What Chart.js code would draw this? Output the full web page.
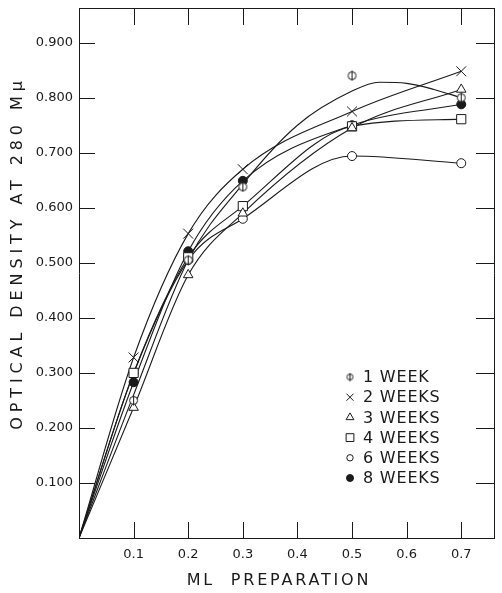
<!DOCTYPE html>
<html>
<head>
<meta charset="utf-8">
<title>Optical density at 280 mμ</title>
<script src="https://cdn.jsdelivr.net/npm/chart.js@4.4.1/dist/chart.umd.min.js"></script>
<style>
  html, body { margin: 0; padding: 0; background: #fff; }
  #wrap { width: 502px; height: 593px; }
</style>
</head>
<body>
<div id="wrap"><canvas id="chart" width="502" height="593"></canvas></div>
<script>
  // ml preparation (x) where readings were taken
  const xValues = [0.1, 0.2, 0.3, 0.5, 0.7];

  // optical density readings, one list per storage time
  const week1 = [0.25, 0.505, 0.638, 0.84, 0.8];
  const week2 = [0.328, 0.553, 0.67, 0.775, 0.848];
  const week3 = [0.237, 0.478, 0.59, 0.745, 0.815];
  const week4 = [0.3, 0.51, 0.603, 0.748, 0.761];
  const week6 = [0.299, 0.505, 0.58, 0.694, 0.681];
  const week8 = [0.283, 0.521, 0.649, 0.75, 0.788];

  const week1CurveX = [0, 0.1, 0.2, 0.3, 0.4, 0.5, 0.55, 0.6, 0.65, 0.7];
  const week1CurveY = [0, 0.26, 0.505, 0.643, 0.75, 0.812, 0.828, 0.826, 0.815, 0.8];

  const weekLabels = ["1 WEEK", "2 WEEKS", "3 WEEKS", "4 WEEKS", "6 WEEKS", "8 WEEKS"];

  const xTicks = [0.1, 0.2, 0.3, 0.4, 0.5, 0.6, 0.7];
  const yTicks = [0.1, 0.2, 0.3, 0.4, 0.5, 0.6, 0.7, 0.8, 0.9];

  const INK = "#1a1a1a";
  const FONT = '"DejaVu Sans", sans-serif';

  // circle with a vertical bar through it, used for 1 week
  function barCircle(size, r) {
    const c = document.createElement("canvas");
    c.width = size;
    c.height = size;
    const g = c.getContext("2d");
    const m = size / 2;
    g.strokeStyle = INK;
    g.lineWidth = 1;
    g.fillStyle = "#fff";
    g.beginPath();
    g.arc(m, m, r, 0, Math.PI * 2);
    g.fill();
    g.stroke();
    g.beginPath();
    g.moveTo(m, 0.5);
    g.lineTo(m, size - 0.5);
    g.stroke();
    return c;
  }

  const markerStyles = [
    { pointStyle: barCircle(11, 4), radius: 5, legendStyle: barCircle(9, 3), legendRadius: 4, fill: "#fff" },
    { pointStyle: "crossRot", radius: 7, legendRadius: 5, fill: "#fff" },
    { pointStyle: "triangle", radius: 5.5, legendRadius: 4.5, fill: "#fff" },
    { pointStyle: "rect", radius: 6.5, legendRadius: 5.5, fill: "#fff" },
    { pointStyle: "circle", radius: 4.5, legendRadius: 3.2, fill: "#fff" },
    { pointStyle: "circle", radius: 4.5, legendRadius: 3.5, fill: INK },
  ];

  function toPoints(xs, ys) {
    return xs.map((x, i) => ({ x, y: ys[i] }));
  }

  const weekValues = [week1, week2, week3, week4, week6, week8];

  const curveSets = weekValues.map((vals, i) => {
    const data = i === 0
      ? toPoints(week1CurveX, week1CurveY)
      : toPoints([0, ...xValues], [0, ...vals]);
    return {
      label: weekLabels[i] + " curve",
      data,
      order: 1,
      borderColor: INK,
      borderWidth: 1.1,
      pointRadius: 0,
      cubicInterpolationMode: "monotone",
      fill: false,
    };
  });

  const markerSets = weekValues.map((vals, i) => {
    const st = markerStyles[i];
    return {
      label: weekLabels[i],
      data: toPoints(xValues, vals),
      order: 0,
      showLine: false,
      pointStyle: st.pointStyle,
      pointRadius: st.radius,
      pointBorderColor: INK,
      pointBackgroundColor: st.fill,
      pointBorderWidth: 1,
    };
  });

  // tick marks point into the plot on all four sides
  const innerTicks = {
    id: "innerTicks",
    afterDraw(chart) {
      const { ctx, chartArea: a, scales } = chart;
      ctx.save();
      ctx.strokeStyle = INK;
      ctx.lineWidth = 1;
      ctx.beginPath();
      xTicks.forEach((v) => {
        const px = Math.round(scales.x.getPixelForValue(v)) + 0.5;
        ctx.moveTo(px, a.bottom);
        ctx.lineTo(px, a.bottom - 16);
        ctx.moveTo(px, a.top);
        ctx.lineTo(px, a.top + 17);
      });
      yTicks.forEach((v) => {
        const py = Math.round(scales.y.getPixelForValue(v)) + 0.5;
        ctx.moveTo(a.left, py);
        ctx.lineTo(a.left + 16, py);
        ctx.moveTo(a.right, py);
        ctx.lineTo(a.right - 18, py);
      });
      ctx.stroke();
      ctx.restore();
    },
  };

  // axis titles with wide letter spacing like the original lettering
  const axisTitles = {
    id: "axisTitles",
    afterDraw(chart) {
      const { ctx, chartArea } = chart;
      ctx.save();
      ctx.fillStyle = INK;
      ctx.font = "16px " + FONT;
      ctx.textAlign = "center";
      ctx.textBaseline = "middle";
      ctx.letterSpacing = "2.8px";
      ctx.fillText("ML  PREPARATION", chartArea.left + 200, 581);
      ctx.translate(18, chartArea.top + 245);
      ctx.rotate(-Math.PI / 2);
      ctx.letterSpacing = "4.9px";
      ctx.fillText("OPTICAL DENSITY AT 280 Mμ", 0, 0);
      ctx.restore();
    },
  };

  // legend sits inside the plot, lower right
  const weekLegend = {
    id: "weekLegend",
    afterDraw(chart) {
      const { ctx, chartArea } = chart;
      const mx = chartArea.right - 144;
      const tx = chartArea.right - 131;
      const y0 = chartArea.bottom - 161;
      ctx.save();
      ctx.font = "16px " + FONT;
      ctx.textAlign = "left";
      ctx.textBaseline = "middle";
      ctx.letterSpacing = "0.8px";
      weekLabels.forEach((label, i) => {
        const st = markerStyles[i];
        const y = y0 + i * 20.2;
        ctx.strokeStyle = INK;
        ctx.fillStyle = st.fill;
        ctx.lineWidth = 1;
        Chart.helpers.drawPoint(ctx, {
          pointStyle: st.legendStyle || st.pointStyle,
          radius: st.legendRadius,
          rotation: 0,
          borderWidth: 1,
        }, mx, y);
        ctx.fillStyle = INK;
        ctx.fillText(label, tx, y + 1);
      });
      ctx.restore();
    },
  };

  const tickFont = { family: FONT, size: 13 };

  // fixes an axis band to a set size, with no extra room asked for edge labels
  function fixSize(prop, size) {
    return (s) => {
      s[prop] = size;
      s.paddingTop = 0;
      s.paddingBottom = 0;
      s.paddingLeft = 0;
      s.paddingRight = 0;
    };
  }

  function frameAxis(position, extra) {
    return Object.assign({
      type: "linear",
      position,
      border: { display: true, color: INK, width: 1 },
      grid: { display: false, drawTicks: false },
    }, extra);
  }

  new Chart(document.getElementById("chart"), {
    type: "line",
    data: { datasets: [...markerSets, ...curveSets] },
    plugins: [innerTicks, axisTitles, weekLegend],
    options: {
      responsive: false,
      animation: false,
      layout: { padding: { top: 6, right: 2, left: 0, bottom: 0 } },
      plugins: { legend: { display: false }, tooltip: { enabled: false } },
      scales: {
        x: frameAxis("bottom", {
          min: 0,
          max: 0.76,
          afterBuildTicks: (s) => { s.ticks = xTicks.map((v) => ({ value: v })); },
          afterFit: fixSize("height", 55),
          ticks: {
            font: tickFont,
            color: INK,
            padding: 9,
            maxRotation: 0,
            autoSkip: false,
            callback: (v) => Number(v).toFixed(1),
          },
        }),
        xTop: frameAxis("top", {
          min: 0,
          max: 0.76,
          afterFit: fixSize("height", 0),
          ticks: { display: false },
        }),
        y: frameAxis("left", {
          min: 0,
          max: 0.963,
          afterBuildTicks: (s) => { s.ticks = yTicks.map((v) => ({ value: v })); },
          afterFit: fixSize("width", 79),
          ticks: {
            font: tickFont,
            color: INK,
            padding: 6,
            autoSkip: false,
            callback: (v) => Number(v).toFixed(3),
          },
        }),
        yRight: frameAxis("right", {
          min: 0,
          max: 0.963,
          afterFit: fixSize("width", 0),
          ticks: { display: false },
        }),
      },
    },
  });
</script>
</body>
</html>
